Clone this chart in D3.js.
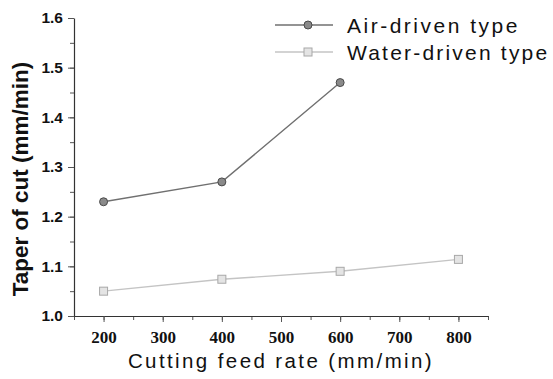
<!DOCTYPE html>
<html>
<head>
<meta charset="utf-8">
<script src="https://cdn.jsdelivr.net/npm/d3@7"></script>
<style>
  body { margin: 0; background: #fff; }
</style>
</head>
<body>
<svg id="chart" width="553" height="379"></svg>
<script>
const feedRates = [200, 400, 600, 800];
const airTaper = [1.23, 1.27, 1.47];
const waterTaper = [1.05, 1.074, 1.09, 1.114];
const xTicks = [200, 300, 400, 500, 600, 700, 800];
const yTicks = [1.0, 1.1, 1.2, 1.3, 1.4, 1.5, 1.6];
const seriesNames = ["Air-driven type", "Water-driven type"];

const svg = d3.select("#chart"),
  margin = { top: 18, right: 65, bottom: 63, left: 74 },
  width = +svg.attr("width") - margin.left - margin.right,
  height = +svg.attr("height") - margin.top - margin.bottom;

const chart = svg.append("g").attr("transform", `translate(${margin.left},${margin.top})`);

const x = d3.scaleLinear().domain([150, 850]).range([0, width]);
const y = d3.scaleLinear().domain([1.0, 1.6]).range([height, 0]);

const series = [
  { name: seriesNames[0], values: airTaper.map((v, i) => ({ x: feedRates[i], y: v })), line: "#707070", fill: "#8a8a8a", stroke: "#4a4a4a", shape: "circle", spacing: "2.5px" },
  { name: seriesNames[1], values: waterTaper.map((v, i) => ({ x: feedRates[i], y: v })), line: "#c4c4c4", fill: "#e4e4e4", stroke: "#a8a8a8", shape: "square", spacing: "2.2px" }
];

// minor ticks
chart.append("g")
  .attr("transform", `translate(0,${height})`)
  .call(d3.axisBottom(x).tickValues(d3.range(150, 851, 50)).tickSize(4).tickFormat(""))
  .call(g => g.select(".domain").remove());
chart.append("g")
  .call(d3.axisLeft(y).tickValues(d3.range(1.0, 1.601, 0.05)).tickSize(4).tickFormat(""))
  .call(g => g.select(".domain").remove());

const xAxis = chart.append("g")
  .attr("transform", `translate(0,${height})`)
  .call(d3.axisBottom(x).tickValues(xTicks).tickSize(6).tickPadding(9).tickSizeOuter(0));
xAxis.selectAll("text")
  .style("font-family", "'Liberation Serif', serif")
  .style("font-weight", "bold")
  .style("font-size", "17px")
  .attr("fill", "#111");

const yAxis = chart.append("g")
  .call(d3.axisLeft(y).tickValues(yTicks).tickSize(6).tickPadding(5).tickSizeOuter(0).tickFormat(d3.format(".1f")));
yAxis.selectAll("text")
  .style("font-family", "'Liberation Sans', Arial, sans-serif")
  .style("font-weight", "bold")
  .style("font-size", "15.5px")
  .attr("fill", "#111");

svg.selectAll(".domain").attr("stroke", "#333").attr("stroke-width", 1.2);
svg.selectAll(".tick line").attr("stroke", "#555");

const line = d3.line().x(d => x(d.x)).y(d => y(d.y));

function marker(sel, s) {
  if (s.shape === "circle") {
    sel.append("circle").attr("r", 4).attr("fill", s.fill).attr("stroke", s.stroke).attr("stroke-width", 1);
  } else {
    sel.append("rect").attr("x", -4).attr("y", -4).attr("width", 8).attr("height", 8)
      .attr("fill", s.fill).attr("stroke", s.stroke).attr("stroke-width", 1);
  }
}

series.forEach(s => {
  chart.append("path")
    .datum(s.values)
    .attr("fill", "none")
    .attr("stroke", s.line)
    .attr("stroke-width", 1.4)
    .attr("d", line);
  chart.selectAll(null)
    .data(s.values)
    .enter().append("g")
    .attr("transform", d => `translate(${x(d.x)},${y(d.y)})`)
    .each(function () { marker(d3.select(this), s); });
});

// legend
const legend = svg.selectAll(".legend")
  .data(series)
  .enter().append("g")
  .attr("class", "legend")
  .attr("transform", (d, i) => `translate(275, ${25 + i * 27})`);

legend.append("line")
  .attr("x1", 0).attr("x2", 58)
  .attr("stroke", d => d.line)
  .attr("stroke-width", 1.4);

legend.append("g")
  .attr("transform", "translate(33,0)")
  .each(function (d) { marker(d3.select(this), d); });

legend.append("text")
  .attr("x", 72)
  .attr("y", 8)
  .style("font-family", "'Liberation Sans', Arial, sans-serif")
  .style("font-size", "21px")
  .style("letter-spacing", d => d.spacing)
  .attr("fill", "#111")
  .text(d => d.name);

svg.append("text")
  .attr("transform", `translate(28,${margin.top + height / 2 + 12}) rotate(-90)`)
  .attr("text-anchor", "middle")
  .style("font-family", "'Liberation Sans', Arial, sans-serif")
  .style("font-weight", "bold")
  .style("font-size", "22.5px")
  .attr("fill", "#111")
  .text("Taper of cut (mm/min)");

svg.append("text")
  .attr("x", margin.left + width / 2)
  .attr("y", 368)
  .attr("text-anchor", "middle")
  .style("font-family", "'Liberation Sans', Arial, sans-serif")
  .style("font-size", "20.5px")
  .style("letter-spacing", "2.4px")
  .attr("fill", "#111")
  .text("Cutting feed rate (mm/min)");
</script>
</body>
</html>
